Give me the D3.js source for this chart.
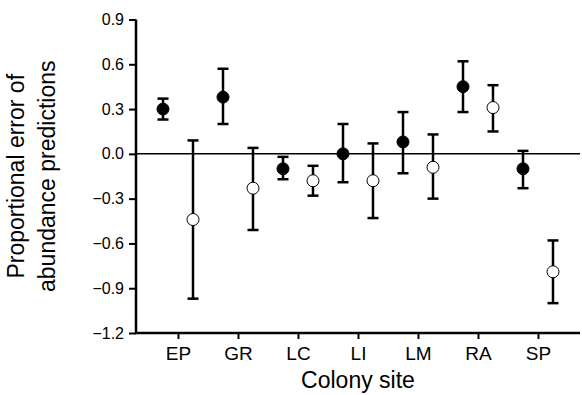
<!DOCTYPE html>
<html>
<head>
<meta charset="utf-8">
<script src="https://cdn.jsdelivr.net/npm/d3@7"></script>
<style>
  body { margin: 0; background: #fff; }
  svg { font-family: "Liberation Sans", Arial, sans-serif; }
</style>
</head>
<body>
<div id="chart"></div>
<script>
// colony sites
var sites = ["EP", "GR", "LC", "LI", "LM", "RA", "SP"];

// filled circles: estimate, lower and upper error bar
var filledMean = [0.30, 0.38, -0.10, 0.00, 0.08, 0.45, -0.10];
var filledLow  = [0.23, 0.20, -0.17, -0.19, -0.13, 0.28, -0.23];
var filledHigh = [0.37, 0.57, -0.02, 0.20, 0.28, 0.62, 0.02];

// open circles
var openMean = [-0.44, -0.23, -0.18, -0.18, -0.09, 0.31, -0.79];
var openLow  = [-0.97, -0.51, -0.28, -0.43, -0.30, 0.15, -1.00];
var openHigh = [0.09, 0.04, -0.08, 0.07, 0.13, 0.46, -0.58];

var yTicks = [0.9, 0.6, 0.3, 0.0, -0.3, -0.6, -0.9, -1.2];

var W = 582, H = 395;
var mLeft = 136, mRight = 580, mTop = 19.5, mBottom = 333;

var svg = d3.select("#chart").append("svg")
    .attr("width", W)
    .attr("height", H);

var x = d3.scalePoint()
    .domain(sites)
    .range([mLeft, mRight])
    .padding(0.7);

var y = d3.scaleLinear()
    .domain([-1.2, 0.9])
    .range([mBottom, mTop]);

var offset = 15;

var filled = sites.map(function(s, i) {
  return {site: s, mean: filledMean[i], lo: filledLow[i], hi: filledHigh[i], dx: -offset, open: false};
});
var open = sites.map(function(s, i) {
  return {site: s, mean: openMean[i], lo: openLow[i], hi: openHigh[i], dx: offset, open: true};
});
var points = filled.concat(open);

// zero line
svg.append("line")
    .attr("x1", mLeft).attr("x2", mRight)
    .attr("y1", y(0)).attr("y2", y(0))
    .attr("stroke", "#000")
    .attr("stroke-width", 1.5);

// y axis
var yAxis = d3.axisLeft(y)
    .tickValues(yTicks)
    .tickFormat(d3.format(".1f"))
    .tickSize(7)
    .tickPadding(5);

var gy = svg.append("g")
    .attr("transform", "translate(" + mLeft + ",0)")
    .call(yAxis);
gy.select(".domain").attr("stroke-width", 2.5).attr("d", "M0," + mTop + "V" + mBottom);
gy.selectAll(".tick line").attr("stroke-width", 2);
gy.selectAll(".tick text").attr("font-size", 16).attr("fill", "#000");

// x axis
var xAxis = d3.axisBottom(x)
    .tickSize(6)
    .tickPadding(8);

var gx = svg.append("g")
    .attr("transform", "translate(0," + mBottom + ")")
    .call(xAxis);
gx.select(".domain").attr("stroke-width", 2.5).attr("d", "M" + (mLeft - 1) + ",0H" + mRight);
gx.selectAll(".tick line").attr("stroke-width", 2);
gx.selectAll(".tick text").attr("font-size", 19).attr("fill", "#000");

// error bars
var bars = svg.append("g").selectAll("g")
    .data(points)
    .enter().append("g")
    .attr("transform", function(d) { return "translate(" + (x(d.site) + d.dx) + ",0)"; });

bars.append("line")
    .attr("x1", 0).attr("x2", 0)
    .attr("y1", function(d) { return y(d.hi); })
    .attr("y2", function(d) { return y(d.lo); })
    .attr("stroke", "#000")
    .attr("stroke-width", 2.5);

bars.append("line")
    .attr("x1", -5.5).attr("x2", 5.5)
    .attr("y1", function(d) { return y(d.hi); })
    .attr("y2", function(d) { return y(d.hi); })
    .attr("stroke", "#000")
    .attr("stroke-width", 2.5);

bars.append("line")
    .attr("x1", -5.5).attr("x2", 5.5)
    .attr("y1", function(d) { return y(d.lo); })
    .attr("y2", function(d) { return y(d.lo); })
    .attr("stroke", "#000")
    .attr("stroke-width", 2.5);

bars.append("circle")
    .attr("cx", 0)
    .attr("cy", function(d) { return y(d.mean); })
    .attr("r", 6)
    .attr("fill", function(d) { return d.open ? "#fff" : "#000"; })
    .attr("stroke", "#000")
    .attr("stroke-width", 1);

// axis titles
svg.append("text")
    .attr("x", (mLeft + mRight) / 2)
    .attr("y", 388)
    .attr("text-anchor", "middle")
    .attr("font-size", 23)
    .text("Colony site");

var yt = svg.append("text")
    .attr("transform", "translate(0," + ((mTop + mBottom) / 2) + ") rotate(-90)")
    .attr("text-anchor", "middle")
    .attr("font-size", 23);
yt.append("tspan").attr("x", 0).attr("y", 24).text("Proportional error of");
yt.append("tspan").attr("x", 0).attr("y", 55).text("abundance predictions");
</script>
</body>
</html>
